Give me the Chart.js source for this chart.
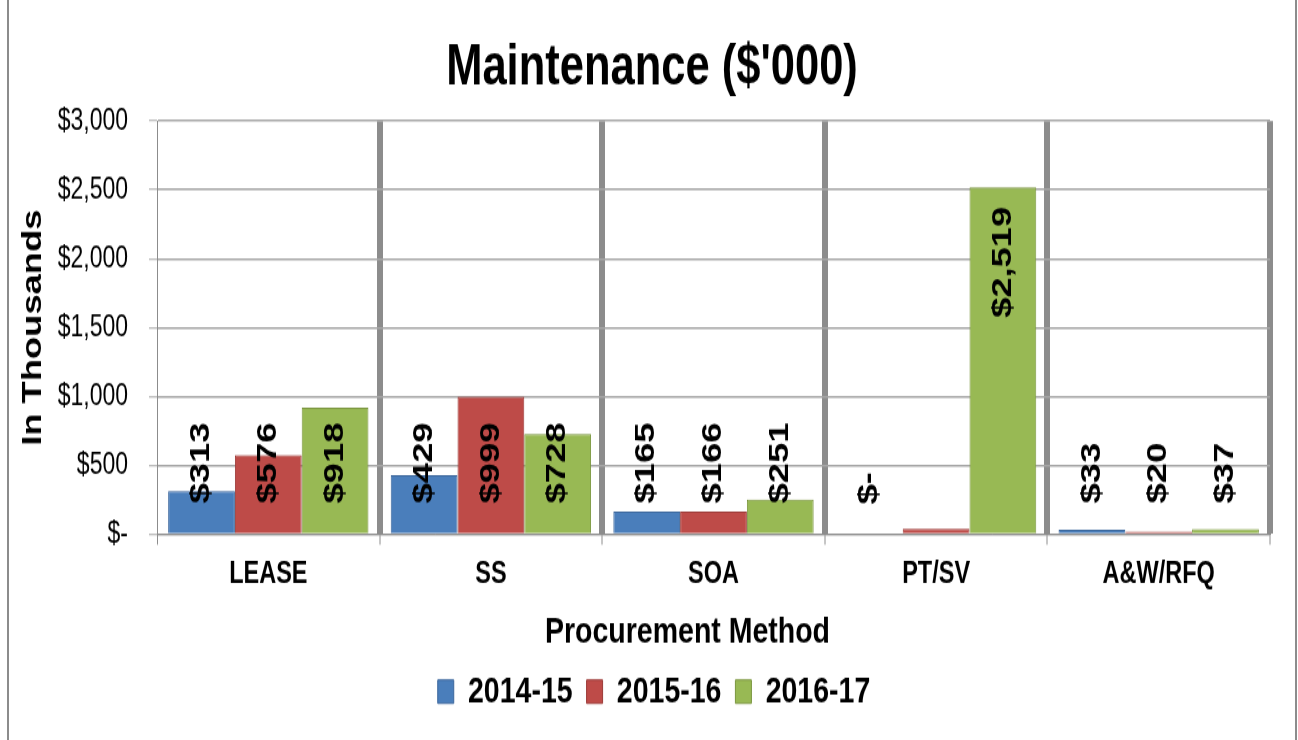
<!DOCTYPE html>
<html lang="en">
<head>
  <meta charset="UTF-8" />
  <title>Maintenance ($'000)</title>
  <script src="https://cdn.jsdelivr.net/npm/chart.js@4.4.1/dist/chart.umd.min.js"></script>
  <style>
    html, body {margin: 0; padding: 0; background: #fff; overflow: hidden;}
    /* the source picture is a vertically stretched Excel chart, so the canvas is drawn short and stretched */
    #myChart {width: 1298px; height: 740px; display: block;}
  </style>
</head>
<body>
  <canvas id="myChart" width="1298" height="570" style="width:1298px;height:740px"></canvas>

  <script>
    // chart data
    const categories = ["LEASE", "SS", "SOA", "PT/SV", "A&W/RFQ"];
    const seriesNames = ["2014-15", "2015-16", "2016-17"];
    const fy1415 = [313, 429, 165, 0, 33];
    const fy1516 = [576, 999, 166, 40, 20];
    const fy1617 = [918, 728, 251, 2519, 37];
    const yTickLabels = ["$-", "$500", "$1,000", "$1,500", "$2,000", "$2,500", "$3,000"];
    // the reference shows no label on the small 2015-16 PT/SV bar
    const hiddenLabels = ["1-3"];

    const FONT = "'Liberation Sans', Arial, sans-serif";
    const fills = ["#4a7ebb", "#be4b48", "#98b954"];
    const edges = ["#3b669c", "#9c3a37", "#7b963f"];

    function money(v) {
      return v === 0 ? "$-" : "$" + v.toLocaleString("en-US");
    }

    // side lines of the chart box
    const framePlugin = {
      id: "frame",
      beforeDraw(chart) {
        const c = chart.ctx;
        c.save();
        c.fillStyle = "#fff";
        c.fillRect(0, 0, chart.width, chart.height);
        c.strokeStyle = "#8c8c8c";
        c.lineWidth = 2;
        c.beginPath();
        c.moveTo(8, 0); c.lineTo(8, chart.height);
        c.moveTo(1296, 0); c.lineTo(1296, chart.height);
        c.stroke();
        c.restore();
      }
    };

    // title and legend sit a little right of the plot centre in the original,
    // the x axis title a little left of it
    const nudgePlugin = {
      id: "nudge",
      afterLayout(chart) {
        if (chart.titleBlock) { chart.titleBlock.left += 12; chart.titleBlock.right += 12; }
        if (chart.legend) { chart.legend.left += 14; chart.legend.right += 14; }
        const xs = chart.scales.x;
        if (xs && !xs._nudged) {
          const orig = xs.drawTitle;
          xs.drawTitle = function () {
            this.ctx.save();
            this.ctx.translate(-26, 0);
            orig.call(this);
            this.ctx.restore();
          };
          xs._nudged = true;
        }
      }
    };

    // vertical value labels
    const valueLabels = {
      id: "valueLabels",
      afterDatasetsDraw(chart) {
        const c = chart.ctx;
        chart.data.datasets.forEach((ds, i) => {
          chart.getDatasetMeta(i).data.forEach((bar, j) => {
            if (hiddenLabels.includes(i + "-" + j)) return;
            const v = ds.data[j];
            c.save();
            c.font = "bold 28px " + FONT;
            c.fillStyle = "#000";
            c.textBaseline = "middle";
            if (v > 2000) {
              c.translate(bar.x, bar.y + 15);
              c.textAlign = "right";
            } else {
              c.translate(bar.x, bar.base - 23);
              c.textAlign = "left";
            }
            c.rotate(-Math.PI / 2);
            c.fillText(money(v), 0, 0);
            c.restore();
          });
        });
      }
    };

    const seriesData = [fy1415, fy1516, fy1617];

    new Chart(document.getElementById("myChart").getContext("2d"), {
      type: "bar",
      data: {
        labels: categories,
        datasets: seriesNames.map((name, i) => ({
          label: name,
          data: seriesData[i],
          backgroundColor: fills[i],
          borderColor: edges[i],
          borderWidth: 1,
          categoryPercentage: 0.9,
          barPercentage: 1.0
        }))
      },
      options: {
        responsive: false,
        animation: false,
        devicePixelRatio: 1,
        layout: {padding: {left: 10, right: 28, top: 0, bottom: 13}},
        plugins: {
          title: {
            display: true,
            text: "Maintenance ($'000)",
            color: "#000",
            font: {family: FONT, size: 43.5, weight: "bold"},
            padding: {top: 27, bottom: 14}
          },
          legend: {
            position: "bottom",
            labels: {
              color: "#000",
              font: {family: FONT, size: 28.5, weight: "bold"},
              boxWidth: 16,
              boxHeight: 18,
              padding: 14
            }
          },
          tooltip: {enabled: false}
        },
        scales: {
          x: {
            grid: {
              offset: true,
              color: "#8c8c8c",
              lineWidth: (ctx) => ctx.index === 0 ? 1 : 6,
              tickLength: 8,
              tickWidth: 1,
              tickColor: "#8c8c8c"
            },
            border: {display: true, color: "#8c8c8c", width: 1},
            ticks: {
              color: "#000",
              padding: 9,
              font: {family: FONT, size: 23.5, weight: "bold"}
            },
            title: {
              display: true,
              text: "Procurement Method",
              color: "#000",
              font: {family: FONT, size: 28.5, weight: "bold"},
              padding: {top: 0, bottom: 0}
            },
            afterFit: (scale) => { scale.height = 93; }
          },
          y: {
            min: 0,
            max: 3000,
            ticks: {
              stepSize: 500,
              color: "#000",
              padding: 21,
              font: {family: FONT, size: 23},
              callback: (v, idx) => yTickLabels[idx]
            },
            grid: {color: "#a6a6a6", lineWidth: 1.5, tickLength: 8, tickWidth: 1},
            border: {display: true, color: "#8c8c8c", width: 1},
            title: {
              display: true,
              text: "In Thousands",
              color: "#000",
              font: {family: FONT, size: 28, weight: "bold"},
              padding: {top: 6, bottom: 0}
            },
            afterFit: (scale) => { scale.width = 147; }
          }
        }
      },
      plugins: [framePlugin, nudgePlugin, valueLabels]
    });
  </script>
</body>
</html>
